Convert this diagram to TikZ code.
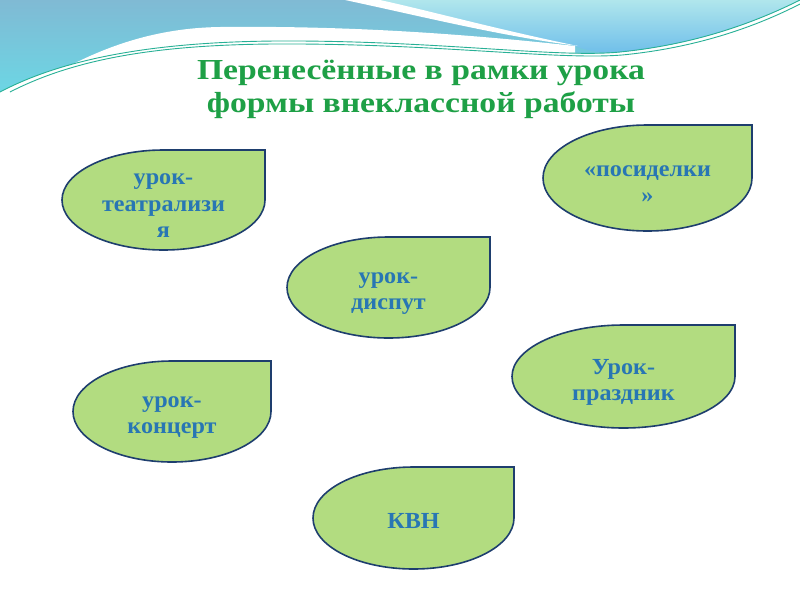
\documentclass[tikz,border=0pt]{standalone}
\usepackage{fontspec}
\setmainfont{Liberation Serif}
\newfontfamily\titlefont{Liberation Serif}[FakeStretch=1.16]
\newfontfamily\leaffont{Liberation Serif}[FakeStretch=1.05]
\definecolor{leaffill}{RGB}{178,220,128}
\definecolor{leafline}{RGB}{30,62,110}
\definecolor{leafblue}{RGB}{40,118,180}
\definecolor{titlegreen}{RGB}{30,160,70}
\definecolor{bgA1}{RGB}{128,186,212}
\definecolor{bgA2}{RGB}{108,214,228}
\definecolor{bgB1}{RGB}{176,230,236}
\definecolor{bgB2}{RGB}{110,190,234}
\definecolor{tealline}{RGB}{40,176,150}
\tikzset{
  leafbox/.style={draw=leafline, line width=1.6pt, fill=leaffill},
  leaftext/.style={text=leafblue, align=center, font=\leaffont\bfseries\fontsize{23}{26.5}\selectfont, inner sep=0pt},
  titletext/.style={text=titlegreen, align=center, font=\titlefont\bfseries\fontsize{29}{33}\selectfont, inner sep=0pt},
  wave/.style={draw=tealline, line width=0.9pt}
}
\newcommand{\leaf}[7]{%
  \pgfmathsetmacro\lcx{(#2+#4)/2}%
  \pgfmathsetmacro\lcy{(#3+#5)/2}%
  \pgfmathsetmacro\lrx{(#4-#2)/2}%
  \pgfmathsetmacro\lry{(#5-#3)/2}%
  \draw[leafbox] (\lcx,#3) -- (#4,#3) -- (#4,\lcy)
    arc[start angle=0, end angle=180, x radius=\lrx, y radius=\lry]
    arc[start angle=180, end angle=270, x radius=\lrx, y radius=\lry] -- cycle;
  \node[leaftext] (#1) at (\lcx,\lcy+#6) {#7};%
}
\begin{document}
\begin{tikzpicture}[x=1pt, y=-1pt]
\useasboundingbox (0,0) rectangle (800,600);
\fill[white] (0,0) rectangle (800,600);
% background wave
\shade[top color=bgA1, bottom color=bgA2] (0,0) -- (800,0) -- (800,0)
  .. controls (760,20) and (700,44) .. (620,52)
  .. controls (560,58) and (450,42) .. (300,41)
  .. controls (170,40) and (70,55) .. (0,92) -- cycle;
\shade[top color=bgB1, bottom color=bgB2] (360,0) -- (800,0)
  .. controls (760,20) and (700,44) .. (620,52)
  .. controls (600,54) and (585,50) .. (572,45)
  .. controls (500,30) and (430,12) .. (360,0) -- cycle;
\fill[white] (345,0) .. controls (420,16) and (500,36) .. (578,46)
  .. controls (500,30) and (430,11) .. (380,0) -- cycle;
\fill[white] (28,90) .. controls (90,50) and (150,28) .. (220,27)
  .. controls (320,26) and (430,30) .. (575,46) -- (575,120) -- (0,120) -- (0,98) -- cycle;
\draw[wave] (0,92) .. controls (70,55) and (170,40) .. (300,41)
  .. controls (450,42) and (560,58) .. (620,52)
  .. controls (700,44) and (760,20) .. (800,0);
\draw[wave] (10,92) .. controls (80,56) and (170,43) .. (300,44)
  .. controls (450,45) and (560,60) .. (622,55)
  .. controls (705,47) and (765,22) .. (800,4);
% title
\node[titletext] (title) at (421,89) {Перенесённые в рамки урока\\формы внеклассной работы};
% leaves
\leaf{teatr}{62}{150}{265}{250}{6}{урок-\\театрализи\\я}
\leaf{posid}{543}{125}{752}{231}{6}{«посиделки\\»}
\leaf{disput}{287}{237}{490}{338}{6}{урок-\\диспут}
\leaf{prazd}{512}{325}{735}{428}{6}{Урок-\\праздник}
\leaf{koncert}{73}{361}{271}{462}{6}{урок-\\концерт}
\leaf{kvn}{313}{467}{514}{569}{3}{КВН}
\end{tikzpicture}
\end{document}
